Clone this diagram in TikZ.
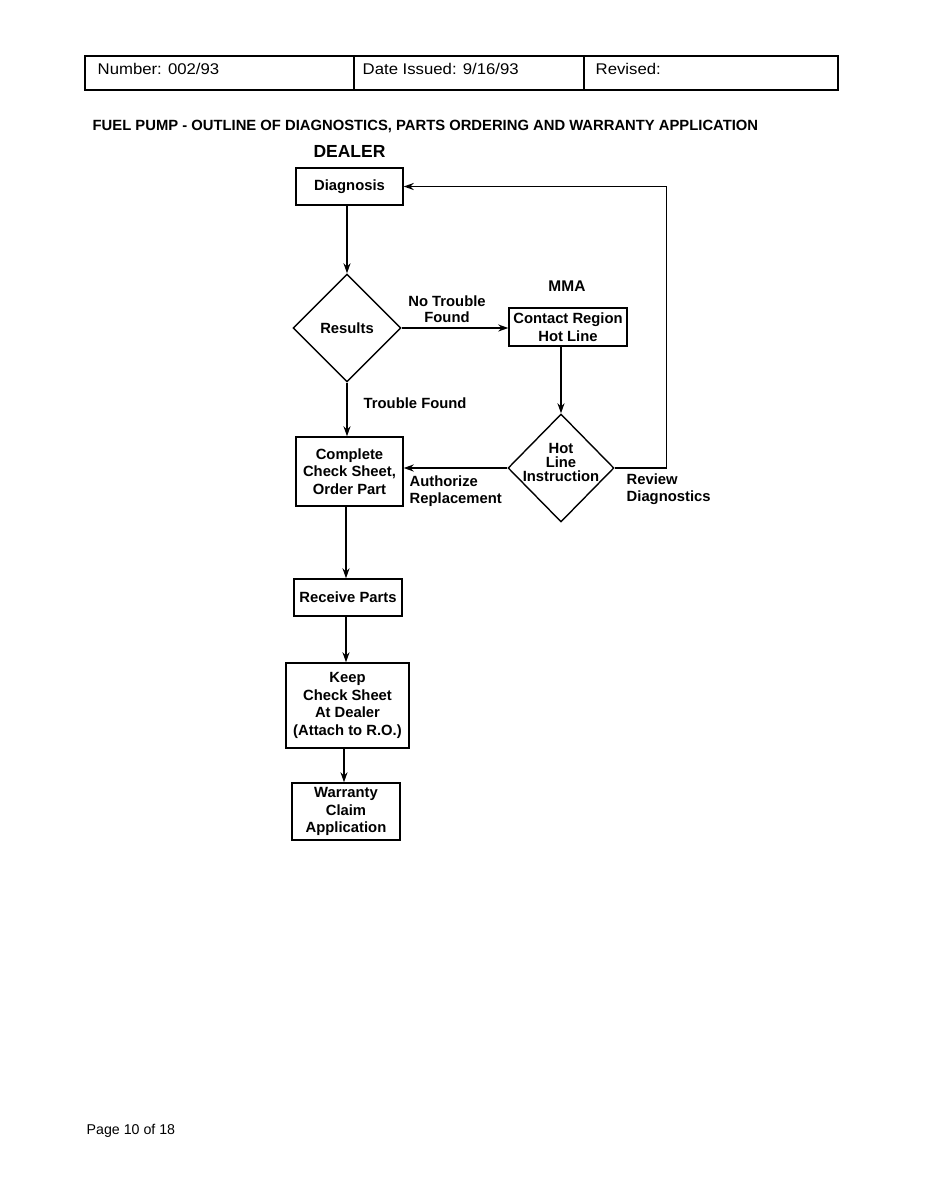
\documentclass[tikz,border=0pt]{standalone}
\usepackage{fontspec}
\setmainfont{Liberation Sans}
\newfontfamily\hdrfont[FakeStretch=1.08]{Liberation Sans}
\usetikzlibrary{arrows.meta,shapes.geometric}
\begin{document}
\begin{tikzpicture}[x=1pt,y=-1pt,
  line width=1.4pt,
  box/.style={draw, inner sep=0pt, align=center, font=\fontsize{14.8}{17.5}\selectfont\bfseries},
  dia/.style={draw, diamond, aspect=1, inner sep=0pt, minimum width=108pt, minimum height=108pt},
  lbl/.style={font=\fontsize{14.8}{16.5}\selectfont\bfseries, inner sep=0pt, align=center},
  hdr/.style={font=\hdrfont\fontsize{15.5}{16}\selectfont, inner sep=0pt, anchor=west},
  arr/.style={-{Stealth[length=10pt,width=7pt]}}]
\path[use as bounding box, fill=white] (0,0) rectangle (932,1200);

% header table
\draw[line width=1.2pt] (85,56) rectangle (838,90);
\draw[line width=1.2pt] (354,56) -- (354,90);
\draw[line width=1.2pt] (584,56) -- (584,90);
\node[hdr] (hnum) at (97,69) {Number: 002/93};
\node[hdr] (hdate) at (362,69) {Date Issued: 9/16/93};
\node[hdr] (hrev) at (595,69) {Revised:};

% title
\node[font=\fontsize{14.8}{16}\selectfont\bfseries, inner sep=0pt, anchor=west] (title) at (92,126)
  {FUEL PUMP - OUTLINE OF DIAGNOSTICS, PARTS ORDERING AND WARRANTY APPLICATION};
\node[font=\fontsize{17.5}{18}\selectfont\bfseries, inner sep=0pt] (dealer) at (349.5,151) {DEALER};
\node[font=\fontsize{15.5}{16}\selectfont\bfseries, inner sep=0pt] (mma) at (567,286) {MMA};

% dealer column
\node[box, minimum width=107pt, minimum height=37pt] (diag) at (349.5,186.5) {Diagnosis};
\node[dia] (res) at (347,328) {};
\node[lbl] (rest) at (347,328) {Results};
\node[box, minimum width=107pt, minimum height=69pt] (cs) at (349.5,471.5) {Complete\\Check Sheet,\\Order Part};
\node[box, minimum width=108pt, minimum height=37pt] (rp) at (348,597.5) {Receive Parts};
\node[box, minimum width=123pt, minimum height=85pt] (kp) at (347.5,705.5) {Keep\\Check Sheet\\At Dealer\\(Attach to R.O.)};
\node[box, minimum width=108pt, minimum height=57pt] (wc) at (346,811.5) {Warranty\\Claim\\Application};

% MMA column
\node[box, minimum width=118pt, minimum height=38pt] (cr) at (568,327) {Contact Region\\Hot Line};
\node[dia, minimum width=106pt] (hl) at (561,468) {};
\node[lbl, font=\fontsize{14.8}{14}\selectfont\bfseries] (hlt) at (561,462) {Hot\\Line\\Instruction};

% connectors
\draw[arr] (res.north |- diag.south) -- (res.north);
\draw[arr] (res.east) -- (res.east -| cr.west);
\draw[arr] (hl.north |- cr.south) -- (hl.north);
\draw[arr] (hl.east) -- ++(52,0) coordinate (loop) |- (diag.east);
\draw[arr] (hl.west) -- (hl.west -| cs.east);
\draw[arr] (res.south) -- (res.south |- cs.north);
\draw[arr] (cs.south -| 346,0) -- (rp.north -| 346,0);
\draw[arr] (rp.south -| 346,0) -- (kp.north -| 346,0);
\draw[arr] (kp.south -| 344,0) -- (wc.north -| 344,0);

% edge labels
\node[lbl] (ntf) at (447,309) {No Trouble\\Found};
\node[lbl, anchor=west] (tf) at (363,403) {Trouble Found};
\node[lbl, anchor=west, align=left] (ar) at (409,491) {Authorize\\Replacement};
\node[lbl, anchor=west, align=left] (rd) at (626,489) {Review\\Diagnostics};

% footer
\node[font=\fontsize{14.2}{15}\selectfont, inner sep=0pt, anchor=west] (page) at (86,1131) {Page 10 of 18};
\end{tikzpicture}
\end{document}
